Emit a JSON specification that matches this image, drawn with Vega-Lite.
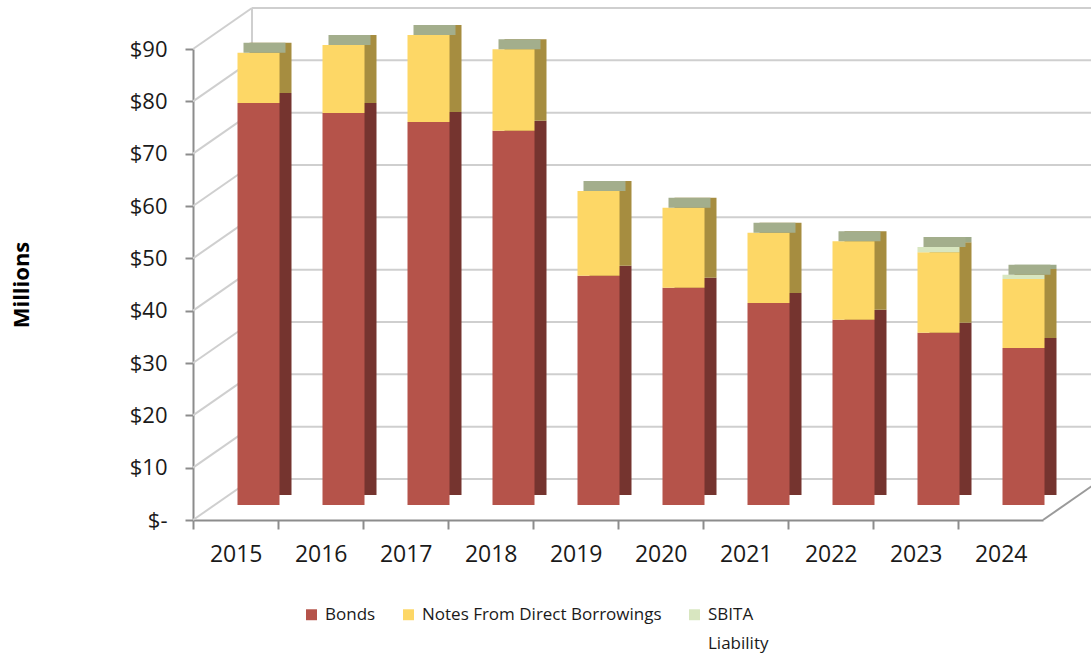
{
  "$schema": "https://vega.github.io/schema/vega-lite/v6.json",
  "autosize": {"type": "none"},
  "width": 850,
  "height": 471,
  "padding": {"left": 193, "top": 49, "right": 48, "bottom": 135},
  "background": "white",
  "config": {
    "view": {"stroke": null},
    "font": "Open Sans",
    "style": {"guide-label": {"lineHeight": 29}}
  },
  "datasets": {
    "debt": [
      {"year": "2015", "type": "Bonds", "value": 76.8},
      {"year": "2015", "type": "Notes From Direct Borrowings", "value": 9.6},
      {"year": "2016", "type": "Bonds", "value": 74.9},
      {"year": "2016", "type": "Notes From Direct Borrowings", "value": 13.0},
      {"year": "2017", "type": "Bonds", "value": 73.2},
      {"year": "2017", "type": "Notes From Direct Borrowings", "value": 16.6},
      {"year": "2018", "type": "Bonds", "value": 71.5},
      {"year": "2018", "type": "Notes From Direct Borrowings", "value": 15.6},
      {"year": "2019", "type": "Bonds", "value": 43.8},
      {"year": "2019", "type": "Notes From Direct Borrowings", "value": 16.2},
      {"year": "2020", "type": "Bonds", "value": 41.5},
      {"year": "2020", "type": "Notes From Direct Borrowings", "value": 15.3},
      {"year": "2021", "type": "Bonds", "value": 38.6},
      {"year": "2021", "type": "Notes From Direct Borrowings", "value": 13.4},
      {"year": "2022", "type": "Bonds", "value": 35.4},
      {"year": "2022", "type": "Notes From Direct Borrowings", "value": 15.0},
      {"year": "2023", "type": "Bonds", "value": 32.9},
      {"year": "2023", "type": "Notes From Direct Borrowings", "value": 15.4},
      {"year": "2023", "type": "SBITA Liability", "value": 1.0},
      {"year": "2024", "type": "Bonds", "value": 30.0},
      {"year": "2024", "type": "Notes From Direct Borrowings", "value": 13.2},
      {"year": "2024", "type": "SBITA Liability", "value": 0.8}
    ],
    "grid": [
      {"g": 0}, {"g": 10}, {"g": 20}, {"g": 30}, {"g": 40},
      {"g": 50}, {"g": 60}, {"g": 70}, {"g": 80}, {"g": 90}
    ]
  },
  "layer": [
    {
      "data": {"name": "grid"},
      "mark": {"type": "rule", "color": "#CFCFCF", "strokeWidth": 2, "xOffset": 59, "x2Offset": 48, "yOffset": -41, "y2Offset": -41},
      "encoding": {
        "x": {"datum": "2015", "bandPosition": 0, "type": "nominal"},
        "x2": {"datum": "2024", "bandPosition": 1},
        "y": {
          "field": "g", "type": "quantitative",
          "scale": {"domain": [0, 90]},
          "title": "Millions",
          "axis": {
            "values": [0, 10, 20, 30, 40, 50, 60, 70, 80, 90],
            "labelExpr": "datum.value == 0 ? '$-' : '$' + datum.label",
            "grid": false, "domainColor": "#8C8C8C", "domainWidth": 2,
            "tickColor": "#8C8C8C", "tickWidth": 2, "tickSize": 8,
            "labelPadding": 18, "labelFontSize": 22, "labelColor": "#1A1A1A", "labelFont": "Open Sans",
            "titleFontSize": 22, "titleFontWeight": "bold", "titleColor": "#000000", "titleFont": "Open Sans",
            "titlePadding": 96
          }
        },
        "y2": {"field": "g"}
      }
    },
    {
      "data": {"name": "grid"},
      "mark": {"type": "rule", "color": "#CFCFCF", "strokeWidth": 2, "x2Offset": 59, "y2Offset": -41},
      "encoding": {
        "x": {"datum": "2015", "bandPosition": 0, "type": "nominal"},
        "x2": {"datum": "2015", "bandPosition": 0},
        "y": {"field": "g", "type": "quantitative", "title": "Millions"},
        "y2": {"field": "g"}
      }
    },
    {
      "data": {"values": [{"a": 0, "b": 90}]},
      "mark": {"type": "rule", "color": "#CFCFCF", "strokeWidth": 2, "xOffset": 59, "x2Offset": 59, "yOffset": -41, "y2Offset": -41},
      "encoding": {
        "x": {"datum": "2015", "bandPosition": 0, "type": "nominal"},
        "y": {"field": "a", "type": "quantitative", "title": "Millions"},
        "y2": {"field": "b"}
      }
    },
    {
      "data": {"values": [{"a": 0}]},
      "mark": {"type": "rule", "color": "#9A9A9A", "strokeWidth": 2, "x2Offset": 59, "y2Offset": -41},
      "encoding": {
        "x": {"datum": "2024", "bandPosition": 1, "type": "nominal"},
        "x2": {"datum": "2024", "bandPosition": 1},
        "y": {"field": "a", "type": "quantitative", "title": "Millions"},
        "y2": {"field": "a"}
      }
    },
    {
      "data": {"name": "debt"},
      "mark": {"type": "bar", "width": 42, "xOffset": 35, "yOffset": -25},
      "encoding": {
        "x": {"field": "year", "type": "nominal"},
        "y": {"field": "value", "type": "quantitative", "stack": "zero", "title": "Millions"},
        "order": {"field": "type"},
        "color": {
          "field": "type", "type": "nominal", "legend": null,
          "scale": {"domain": ["Bonds", "Notes From Direct Borrowings", "SBITA Liability"], "range": ["#75342F", "#A68D40", "#9DAA89"]}
        }
      }
    },
    {
      "data": {"name": "debt"},
      "mark": {"type": "bar", "width": 42, "xOffset": 23, "yOffset": -15},
      "encoding": {
        "x": {
          "field": "year", "type": "nominal", "title": null,
          "scale": {"paddingInner": 0, "paddingOuter": 0},
          "axis": {
            "bandPosition": 0, "labelAngle": 0, "domainColor": "#8C8C8C", "domainWidth": 2,
            "tickColor": "#8C8C8C", "tickWidth": 2, "tickSize": 9,
            "labelPadding": 25, "labelFontSize": 23, "labelColor": "#1A1A1A", "labelFont": "Open Sans",
            "labelOffset": 27
          }
        },
        "y": {"field": "value", "type": "quantitative", "stack": "zero", "title": "Millions"},
        "order": {"field": "type"},
        "color": {
          "field": "type", "type": "nominal",
          "scale": {"domain": ["Bonds", "Notes From Direct Borrowings", "SBITA Liability"], "range": ["#B5534A", "#FDD766", "#D8E6C0"]},
          "legend": {
            "title": null, "orient": "none", "direction": "horizontal",
            "legendX": 110, "legendY": 557,
            "symbolType": "square", "symbolSize": 120, "symbolStrokeWidth": 0,
            "labelFontSize": 17, "labelFont": "Open Sans", "labelColor": "#1A1A1A",
            "labelOffset": 5, "columnPadding": 24, "labelLimit": 400,
            "labelExpr": "datum.label == 'SBITA Liability' ? ['SBITA', 'Liability'] : [datum.label, ' ']"
          }
        }
      }
    },
    {
      "data": {"name": "debt"},
      "mark": {"type": "tick", "size": 42, "thickness": 10, "xOffset": 29, "yOffset": -20, "color": "#A3AE8C"},
      "encoding": {
        "x": {"field": "year", "type": "nominal"},
        "y": {"aggregate": "sum", "field": "value", "type": "quantitative", "title": "Millions"}
      }
    }
  ],
  "resolve": {"scale": {"color": "independent"}}
}
